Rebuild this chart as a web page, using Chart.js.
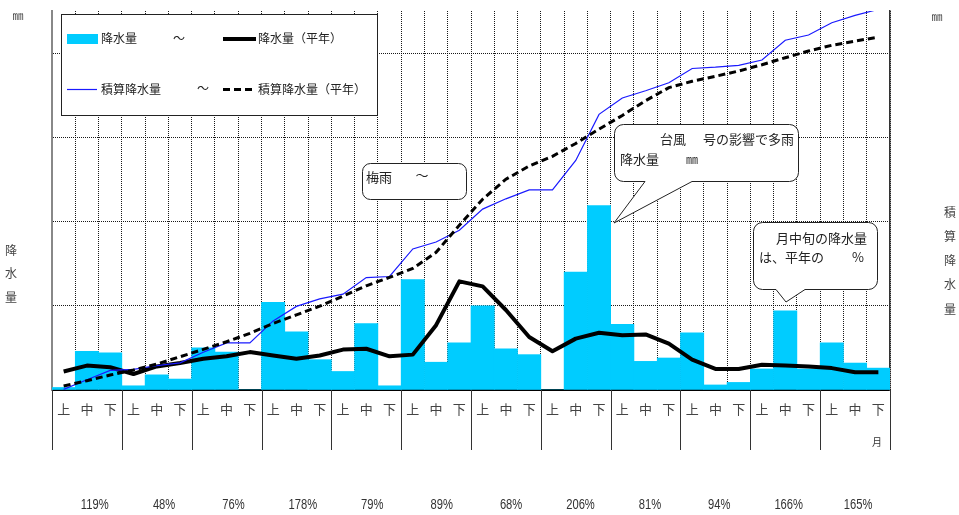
<!DOCTYPE html>
<html lang="ja">
<head>
<meta charset="utf-8">
<script src="https://cdn.jsdelivr.net/npm/chart.js@4.4.1/dist/chart.umd.min.js"></script>
<style>
html,body{margin:0;padding:0;background:#fff;}
#wrap{position:relative;width:959px;height:515px;}
</style>
</head>
<body>
<div id="wrap"><canvas id="c"></canvas></div>
<script>
// 旬ごとの区分（1月上旬～12月下旬）
const dekadNames = ['上', '中', '下'];
const monthCount = 12;
const dekadLabels = [];
for (let m = 0; m < monthCount; m++) dekadLabels.push(...dekadNames);

// 旬降水量 (mm)
const rainfall = [
  3, 46, 44,   5, 18, 13,   50, 45, 0,    104, 69, 36,
  22, 79, 5,   131, 33, 56, 100, 49, 42,  0, 140, 219,
  78, 34, 38,  68, 6, 9,    25, 94, 25,   56, 32, 26
];
// 旬降水量 平年値 (mm)
const rainfallNormal = [
  22, 29, 27,  19, 28, 32,  37, 40, 45,   41, 37, 41,
  48, 49, 40,  42, 77, 129, 123, 95, 63,  46, 61, 68,
  65, 66, 55,  36, 25, 25,  30, 29, 28,   26, 21, 21
];
// 積算降水量 (mm)
const cumulative = [
  3, 49, 93,       98, 116, 129,     179, 224, 224,    328, 397, 433,
  455, 534, 539,   670, 703, 759,    859, 908, 950,    950, 1090, 1309,
  1387, 1421, 1459, 1527, 1533, 1542, 1567, 1661, 1686, 1744, 1779, 1808
];
// 積算降水量 平年値 (mm)
const cumulativeNormal = [
  19, 44, 71,      95, 123, 158,     193, 229, 269,    316, 357, 398,
  446, 495, 535,   577, 654, 783,    906, 1001, 1064,  1110, 1171, 1239,
  1304, 1374, 1436, 1466, 1490, 1515, 1545, 1578, 1610, 1637, 1657, 1676
];
// 月降水量の平年比
const monthRatio = ['119%', '48%', '76%', '178%', '79%', '89%', '68%', '206%', '81%', '94%', '166%', '165%'];

const FONT = '"Noto Sans CJK JP", "Noto Sans", sans-serif';
const LATIN = '"Liberation Sans", Arimo, sans-serif';
const GRID = 'rgba(0,0,0,0.9)';

function text(ctx, s, x, y, size, color, align, family) {
  ctx.font = size + 'px ' + (family || FONT);
  ctx.fillStyle = color || '#222';
  ctx.textAlign = align || 'left';
  ctx.textBaseline = 'middle';
  ctx.fillText(s, x, y);
}

// 横幅を詰めた文字（平年比の行）
function narrowText(ctx, s, x, y, size, color, squeeze) {
  ctx.save();
  ctx.translate(x, y);
  ctx.scale(squeeze, 1);
  text(ctx, s, 0, 0, size, color, 'center', LATIN);
  ctx.restore();
}

// 吹き出し（角丸の枠、下向きのしっぽ付き）
function callout(ctx, x, y, w, h, r, tail) {
  const b = y + h;
  ctx.beginPath();
  ctx.moveTo(x + r, y);
  ctx.lineTo(x + w - r, y);
  ctx.arcTo(x + w, y, x + w, y + r, r);
  ctx.lineTo(x + w, b - r);
  ctx.arcTo(x + w, b, x + w - r, b, r);
  if (tail) {
    ctx.lineTo(tail.x2, b);
    ctx.lineTo(tail.tx, tail.ty);
    ctx.lineTo(tail.x1, b);
  }
  ctx.lineTo(x + r, b);
  ctx.arcTo(x, b, x, b - r, r);
  ctx.lineTo(x, y + r);
  ctx.arcTo(x, y, x + r, y, r);
  ctx.closePath();
  ctx.fillStyle = '#fff';
  ctx.fill();
  ctx.lineWidth = 1;
  ctx.strokeStyle = '#222';
  ctx.stroke();
}

const decorations = {
  id: 'decorations',
  afterDraw(chart) {
    const { ctx, chartArea: a, scales: { x } } = chart;
    const ds = chart.data.datasets;
    const half = (x.getPixelForValue(1) - x.getPixelForValue(0)) / 2;
    ctx.save();

    // 月の区切り線（軸の下）
    ctx.strokeStyle = '#333';
    ctx.lineWidth = 1;
    for (let m = 0; m <= monthCount; m++) {
      const px = Math.round(x.getPixelForValue(m * 3) - half) + 0.5;
      ctx.beginPath();
      ctx.moveTo(px, a.bottom);
      ctx.lineTo(px, a.bottom + 60);
      ctx.stroke();
    }
    text(ctx, '月', a.right - 13, a.bottom + 52, 10, '#333', 'center');

    // 平年比の行
    monthRatio.forEach((s, i) => {
      narrowText(ctx, s, 94.7 + 69.4 * i, 505, 14, '#333', 0.8);
    });

    // 軸の名前
    text(ctx, '㎜', 18, 16, 11, '#444', 'center');
    ['降', '水', '量'].forEach((c, i) => text(ctx, c, 11, 250 + 23.5 * i, 12, '#444', 'center'));
    text(ctx, '㎜', 937, 17, 11, '#444', 'center');
    ['積', '算', '降', '水', '量'].forEach((c, i) => text(ctx, c, 950, 212 + 24.3 * i, 12, '#444', 'center'));

    // 凡例
    ctx.fillStyle = '#fff';
    ctx.fillRect(61.5, 14.5, 316, 101);
    ctx.strokeStyle = '#222';
    ctx.lineWidth = 1;
    ctx.strokeRect(61.5, 14.5, 316, 101);

    ctx.fillStyle = ds[0].backgroundColor;
    ctx.fillRect(67, 34, 31, 10);
    text(ctx, ds[0].label, 101, 38, 12);
    text(ctx, '～', 179, 38, 12, '#222', 'center');

    ctx.strokeStyle = ds[1].borderColor;
    ctx.lineWidth = ds[1].borderWidth;
    ctx.beginPath(); ctx.moveTo(223, 39); ctx.lineTo(256, 39); ctx.stroke();
    text(ctx, ds[1].label, 258, 38, 12);

    ctx.strokeStyle = ds[2].borderColor;
    ctx.lineWidth = ds[2].borderWidth;
    ctx.beginPath(); ctx.moveTo(67, 89.5); ctx.lineTo(97, 89.5); ctx.stroke();
    text(ctx, ds[2].label, 101, 89, 12);
    text(ctx, '～', 203, 88, 12, '#222', 'center');

    ctx.strokeStyle = ds[3].borderColor;
    ctx.lineWidth = ds[3].borderWidth;
    ctx.setLineDash(ds[3].borderDash);
    ctx.beginPath(); ctx.moveTo(223, 89.5); ctx.lineTo(256, 89.5); ctx.stroke();
    ctx.setLineDash([]);
    text(ctx, ds[3].label, 258, 89, 12);

    // 梅雨期間
    callout(ctx, 362.5, 163.5, 104, 36, 8, null);
    text(ctx, '梅雨', 366, 177, 13);
    text(ctx, '～', 422, 175, 13, '#222', 'center');

    // 台風による多雨
    callout(ctx, 614.5, 124.5, 184, 57, 9, { x1: 645, x2: 692, tx: 614, ty: 223 });
    text(ctx, '台風', 660, 139, 13);
    text(ctx, '号の影響で多雨', 703, 139, 13);
    text(ctx, '降水量', 620, 159, 13);
    text(ctx, '㎜', 692, 159, 12, '#222', 'center');

    // 中旬の降水量
    callout(ctx, 753.5, 222.5, 124, 67, 9, { x1: 776, x2: 805, tx: 786, ty: 302 });
    text(ctx, '月中旬の降水量', 776, 238, 13);
    text(ctx, 'は、平年の', 759, 257, 13);
    text(ctx, '%', 852, 257, 13);

    ctx.restore();
  }
};

new Chart(document.getElementById('c'), {
  type: 'bar',
  data: {
    labels: dekadLabels,
    datasets: [
      {
        type: 'bar', label: '降水量', data: rainfall, yAxisID: 'y', order: 4,
        backgroundColor: '#00ccff', borderWidth: 0,
        categoryPercentage: 1.0, barPercentage: 1.0
      },
      {
        type: 'line', label: '降水量（平年）', data: rainfallNormal, yAxisID: 'y', order: 3,
        borderColor: '#000', borderWidth: 4, pointRadius: 0, tension: 0,
        borderJoinStyle: 'round', fill: false
      },
      {
        type: 'line', label: '積算降水量', data: cumulative, yAxisID: 'y2', order: 2,
        borderColor: '#1a1aff', borderWidth: 1.2, pointRadius: 0, tension: 0, fill: false
      },
      {
        type: 'line', label: '積算降水量（平年）', data: cumulativeNormal, yAxisID: 'y2', order: 1,
        borderColor: '#000', borderWidth: 3, borderDash: [7, 4], pointRadius: 0, tension: 0, fill: false
      }
    ]
  },
  options: {
    responsive: true,
    maintainAspectRatio: false,
    animation: false,
    devicePixelRatio: 1,
    layout: { padding: { top: 11, left: 0, right: 0, bottom: 0 } },
    plugins: { legend: { display: false }, tooltip: { enabled: false }, title: { display: false } },
    scales: {
      x: {
        offset: true,
        grid: { offset: true, color: GRID, lineWidth: 1, drawTicks: false, borderDash: [1, 1] },
        border: { display: true, color: '#000', width: 2, dash: [1, 1] },
        ticks: { color: '#444', font: { family: FONT, size: 13 }, padding: 11, maxRotation: 0, autoSkip: false },
        afterFit(s) { s.height = 125; }
      },
      y: {
        position: 'left', min: 0, max: 450,
        ticks: { display: false, stepSize: 100 },
        grid: { color: GRID, lineWidth: 1, drawTicks: false, borderDash: [1, 1] },
        border: { display: true, color: '#888', width: 2, dash: [1, 1] },
        afterBuildTicks(s) { s.ticks = s.ticks.filter(t => t.value <= 400); },
        afterFit(s) { s.width = 52; }
      },
      y2: {
        position: 'right', min: 0, max: 1800,
        ticks: { display: false, stepSize: 400 },
        grid: { drawOnChartArea: false, drawTicks: false },
        border: { display: true, color: '#333', width: 1.5 },
        afterFit(s) { s.width = 69; }
      }
    }
  },
  plugins: [decorations]
});
</script>
</body>
</html>
